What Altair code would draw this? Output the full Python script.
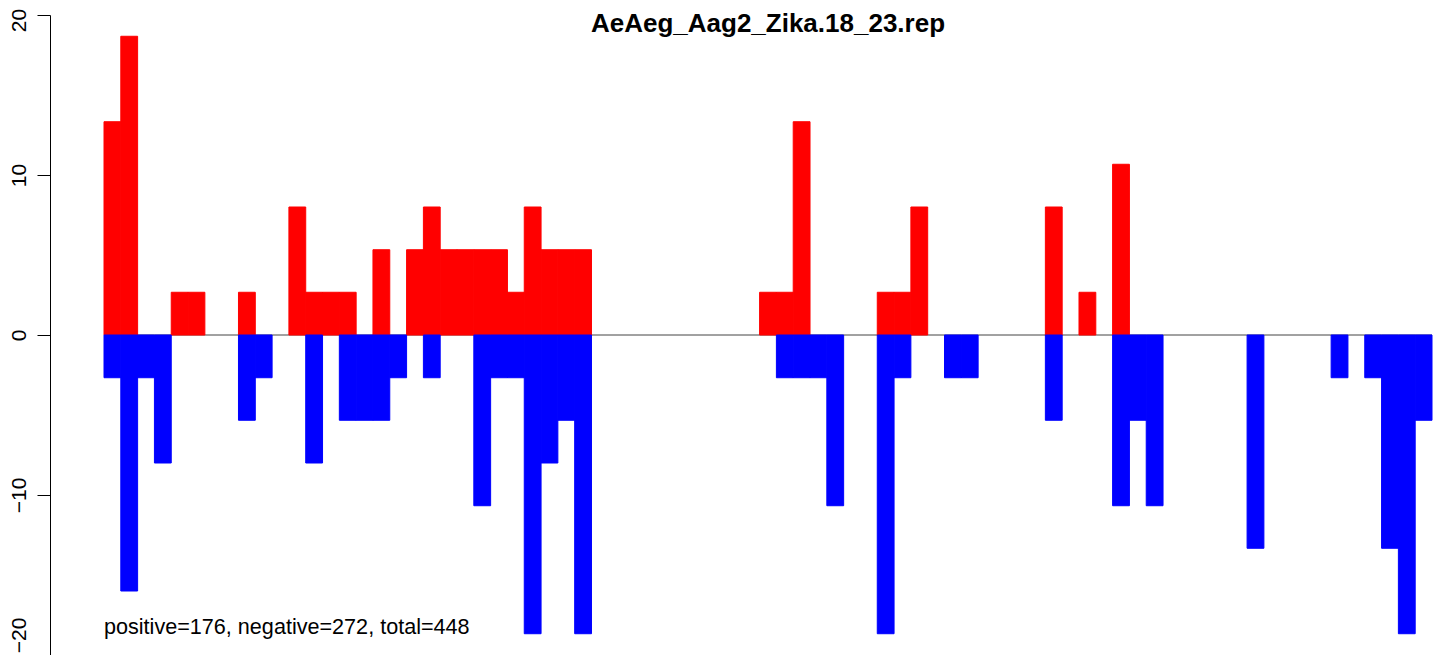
import altair as alt
import pandas as pd

title_text = "AeAeg_Aag2_Zika.18_23.rep"
summary_text = "positive=176, negative=272, total=448"
n_bins = 79

pos_bins = [0, 1, 4, 5, 8, 11, 12, 13, 14, 16, 18, 19, 20, 21, 22, 23, 24, 25, 26, 27,
            28, 39, 40, 41, 46, 47, 48, 56, 58, 60]
pos_vals = [13.33, 18.67, 2.67, 2.67, 2.67, 8, 2.67, 2.67, 2.67, 5.33,
            5.33, 8, 5.33, 5.33, 5.33, 5.33, 2.67, 8, 5.33, 5.33,
            5.33, 2.67, 2.67, 13.33, 2.67, 2.67, 8, 8, 2.67, 10.67]

neg_bins = [0, 1, 2, 3, 8, 9, 12, 14, 15, 16, 17, 19, 22, 23, 24, 25, 26, 27, 28, 40,
            41, 42, 43, 46, 47, 50, 51, 56, 60, 61, 62, 68, 73, 75, 76, 77, 78]
neg_vals = [-2.67, -16, -2.67, -8, -5.33, -2.67, -8, -5.33, -5.33, -5.33,
            -2.67, -2.67, -10.67, -2.67, -2.67, -18.67, -8, -5.33, -18.67, -2.67,
            -2.67, -2.67, -10.67, -18.67, -2.67, -2.67, -2.67, -5.33, -10.67, -5.33,
            -10.67, -13.33, -2.67, -2.67, -13.33, -18.67, -5.33]

y_ticks = [-20, -10, 0, 10, 20]

pos_df = pd.DataFrame({"start": pos_bins, "end": [b + 1 for b in pos_bins], "value": pos_vals})
neg_df = pd.DataFrame({"start": neg_bins, "end": [b + 1 for b in neg_bins], "value": neg_vals})
zero_df = pd.DataFrame({"start": [0], "end": [n_bins], "value": [0]})
label_df = pd.DataFrame({"title": [title_text], "summary": [summary_text]})

FONT = "Liberation Sans"

x_scale = alt.Scale(domain=[0, n_bins], nice=False, zero=False)
y_scale = alt.Scale(domain=[-20, 20], nice=False, zero=False)
y_axis = alt.Axis(
    values=y_ticks, title=None, grid=False, orient="left", offset=54,
    tickSize=13, tickColor="black", tickWidth=1,
    domainColor="black", domainWidth=1,
    labelAngle=270, labelAlign="center", labelBaseline="alphabetic",
    labelPadding=12, labelFont=FONT, labelFontSize=21, labelColor="black",
    labelOverlap=False, labelFlush=False,
    labelOffset={"condition": [
        {"test": "datum.value == 20", "value": 5},
        {"test": "datum.value == -20", "value": -20},
    ], "value": 0},
)

X = alt.X("start:Q", scale=x_scale, axis=None)
X2 = alt.X2("end:Q")
Y = alt.Y("value:Q", scale=y_scale, axis=y_axis)

zero_line = alt.Chart(zero_df).mark_rule(color="#444444", strokeWidth=1).encode(
    x=X, x2=X2, y=Y
)

pos_bars = alt.Chart(pos_df).mark_bar(color="#FF0000", stroke="#FF0000", strokeWidth=1).encode(
    x=X, x2=X2, y=Y, y2=alt.Y2(datum=0)
)
neg_bars = alt.Chart(neg_df).mark_bar(color="#0000FF", stroke="#0000FF", strokeWidth=1).encode(
    x=X, x2=X2, y=Y, y2=alt.Y2(datum=0)
)

title_mark = alt.Chart(label_df).mark_text(
    font=FONT, fontSize=26, fontWeight="bold", align="center", baseline="alphabetic", color="black"
).encode(x=alt.value(664), y=alt.value(17), text="title:N")

summary_mark = alt.Chart(label_df).mark_text(
    font=FONT, fontSize=21.6, align="left", baseline="alphabetic", color="black"
).encode(x=alt.value(0), y=alt.value(619), text="summary:N")

chart = alt.layer(zero_line, pos_bars, neg_bars, title_mark, summary_mark).properties(
    width=1328, height=640,
    autosize=alt.AutoSizeParams(type="none"),
    padding={"left": 96, "top": 7, "right": 4, "bottom": 0},
    background="white",
).configure_view(stroke=None)

chart.save("out.html", embed_options={"renderer": "svg", "actions": False})
